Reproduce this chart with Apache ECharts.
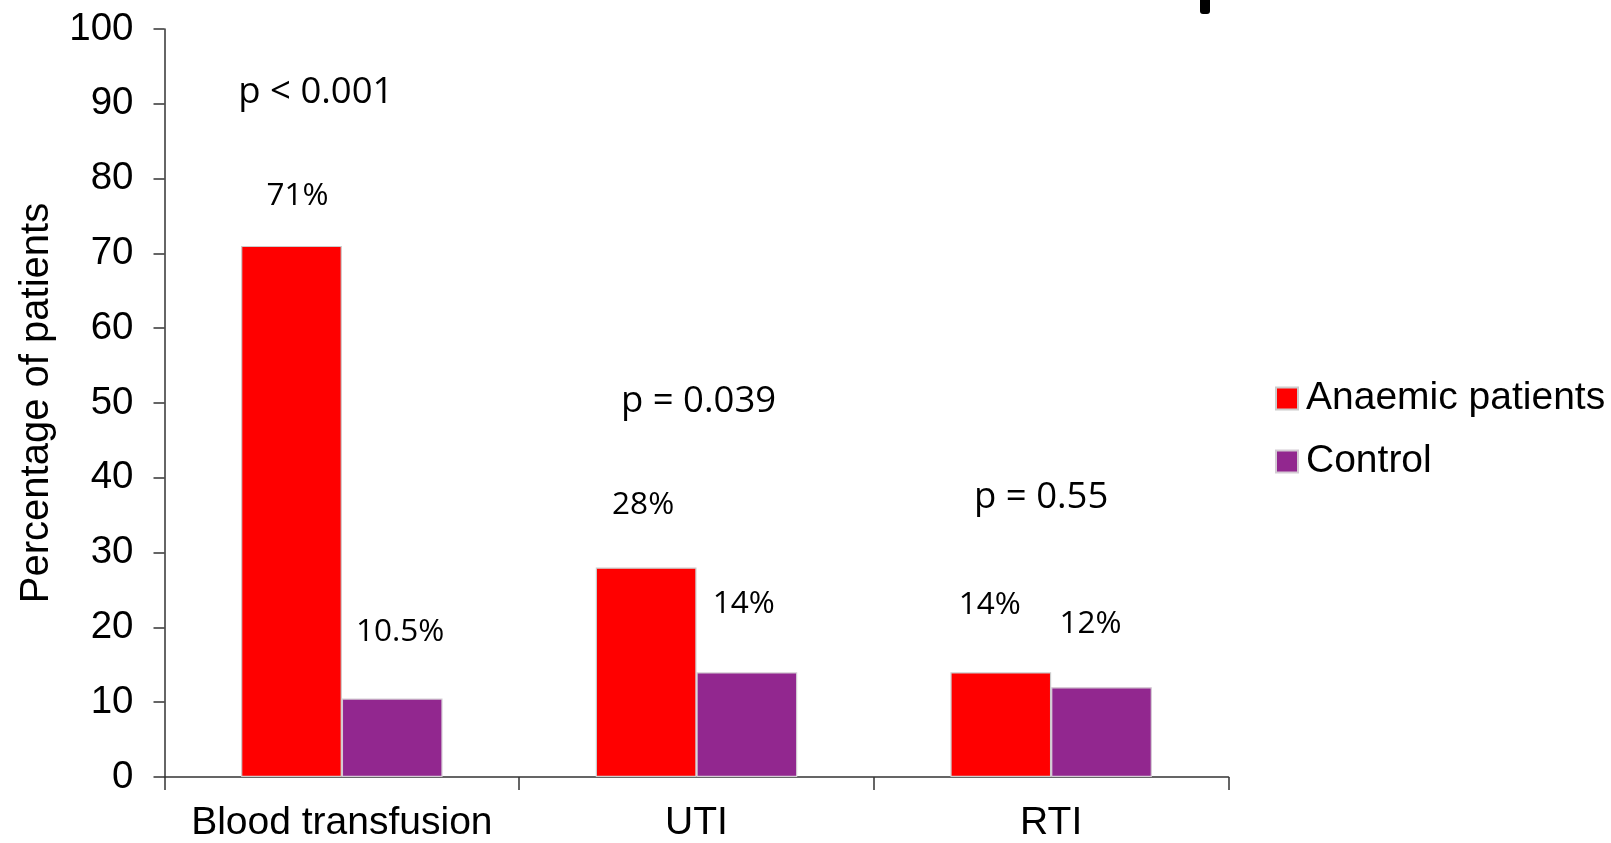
<!DOCTYPE html>
<html>
<head>
<meta charset="utf-8">
<title>Outcomes in anaemic patients vs control</title>
<script src="https://cdn.jsdelivr.net/npm/echarts@6/dist/echarts.min.js"></script>
<style>
  html, body { margin: 0; padding: 0; background: #ffffff; }
  #chart { width: 1611px; height: 843px; }
</style>
</head>
<body>
<div id="chart"></div>
<script>
// Outcome categories and percentage of patients per group
const categories = ['Blood transfusion', 'UTI', 'RTI'];
const anaemic = [71, 28, 14];
const control = [10.5, 14, 12];

// Significance annotations per category and the height (in % units) they sit at
const pValueText = ['p < 0.001', 'p = 0.039', 'p = 0.55'];
const pValueLevel = [91.85, 50.4, 37.7];

// Value axis ticks
const yMin = 0;
const yMax = 100;
const yStep = 10;

// Small label nudges (pixels) so labels sit where the original annotations did
const anaemicLabelShift = [[6, 12], [-3, -1], [-11, -5]];
const controlLabelShift = [[8, -4], [-3, -6], [-11, -1]];
const pLabelShift = [[-26, 3], [2, 1.5], [-10, 3]];

const axisFont = 'Arial, "Liberation Sans", sans-serif';
const noteFont = '"Open Sans", "Noto Sans", sans-serif';
const axisColor = '#333333';

function barData(values, shifts) {
  return values.map((v, i) => ({
    value: v,
    label: { offset: shifts[i] }
  }));
}

const barLabel = {
  show: true,
  position: 'top',
  distance: 46,
  fontFamily: noteFont,
  fontSize: 31.5,
  color: '#000',
  formatter: p => p.value + '%'
};

const chart = echarts.init(document.getElementById('chart'), null, { renderer: 'canvas' });

chart.setOption({
  animation: false,
  backgroundColor: '#ffffff',
  grid: { left: 164.5, right: 382.5, top: 29, bottom: 65.5, containLabel: false },
  legend: {
    orient: 'vertical',
    left: 1275,
    top: 379,
    padding: 0,
    itemWidth: 22,
    itemHeight: 22,
    itemGap: 24,
    icon: 'rect',
    data: ['Anaemic patients', 'Control'],
    textStyle: { fontFamily: axisFont, fontSize: 39, color: '#000', padding: [0, 0, 0, 3] }
  },
  xAxis: {
    type: 'category',
    data: categories,
    axisLine: { lineStyle: { color: axisColor, width: 1.5 } },
    axisTick: { show: true, interval: 0, length: 13, lineStyle: { color: axisColor, width: 1.5 } },
    axisLabel: { interval: 0, fontFamily: axisFont, fontSize: 39, color: '#000', margin: 27 }
  },
  yAxis: {
    type: 'value',
    min: yMin,
    max: yMax,
    interval: yStep,
    name: 'Percentage of patients',
    nameLocation: 'middle',
    nameGap: 108,
    nameTextStyle: { fontFamily: axisFont, fontSize: 40, color: '#000' },
    splitLine: { show: false },
    axisLine: { show: true, lineStyle: { color: axisColor, width: 1.5 } },
    axisTick: { show: true, length: 11, lineStyle: { color: axisColor, width: 1.5 } },
    axisLabel: { fontFamily: axisFont, fontSize: 38.5, color: '#000', margin: 31 }
  },
  series: [
    {
      name: 'Anaemic patients',
      type: 'bar',
      barGap: '0%',
      barCategoryGap: '43.2%',
      itemStyle: { color: '#ff0000', borderColor: '#cccccc', borderWidth: 1.2 },
      label: barLabel,
      data: barData(anaemic, anaemicLabelShift)
    },
    {
      name: 'Control',
      type: 'bar',
      barGap: '0%',
      barCategoryGap: '43.2%',
      itemStyle: { color: '#92278f', borderColor: '#d4cbd4', borderWidth: 1.2 },
      label: barLabel,
      data: barData(control, controlLabelShift)
    },
    {
      name: 'p-values',
      type: 'scatter',
      silent: true,
      symbolSize: 0,
      itemStyle: { opacity: 1 },
      data: pValueLevel.map((lvl, i) => ({
        value: [i, lvl],
        label: { offset: pLabelShift[i] }
      })),
      label: {
        show: true,
        position: 'inside',
        fontFamily: noteFont,
        fontSize: 36.5,
        color: '#000',
        formatter: p => pValueText[p.dataIndex]
      }
    }
  ],
  graphic: [
    {
      type: 'rect',
      left: 1200,
      top: 0,
      shape: { width: 10, height: 14, r: [0, 0, 3, 3] },
      style: { fill: '#000' }
    }
  ]
});
</script>
</body>
</html>
